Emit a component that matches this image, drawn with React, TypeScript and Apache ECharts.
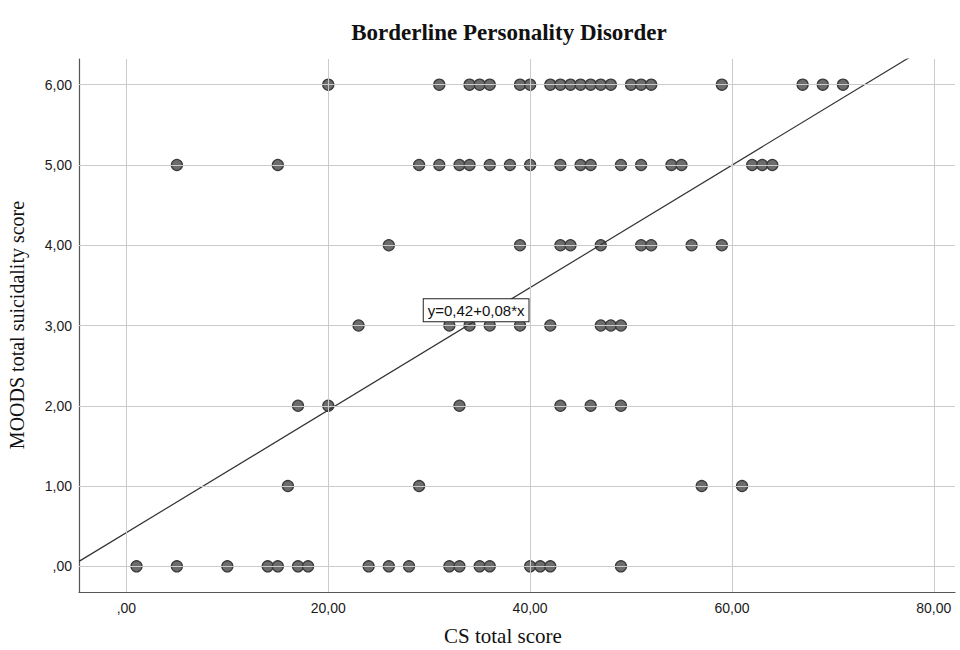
import React, { useEffect, useRef } from "react";
import * as echarts from "echarts";

// CS total score values grouped by MOODS total suicidality score (y)
const row6 = [20, 31, 34, 35, 36, 39, 40, 42, 43, 44, 45, 46, 47, 48, 50, 51, 52, 59, 67, 69, 71];
const row5 = [5, 15, 29, 31, 33, 34, 36, 38, 40, 43, 45, 46, 49, 51, 54, 55, 62, 63, 64];
const row4 = [26, 39, 43, 44, 47, 51, 52, 56, 59];
const row3 = [23, 32, 34, 36, 39, 42, 47, 48, 49];
const row2 = [17, 20, 33, 43, 46, 49];
const row1 = [16, 29, 57, 61];
const row0 = [1, 5, 10, 14, 15, 17, 18, 24, 26, 28, 32, 33, 35, 36, 40, 41, 42, 49];
const rows: [number, number[]][] = [
  [6, row6], [5, row5], [4, row4], [3, row3], [2, row2], [1, row1], [0, row0],
];

const xTicks = [0, 20, 40, 60, 80];
const yTicks = [0, 1, 2, 3, 4, 5, 6];
const intercept = 0.42;
const slope = 0.0763;
const fitLabel = "y=0,42+0,08*x";
const labelPos = [34.65, 3.19];

const X_MIN = -4.7, X_MAX = 82.1, Y_MIN = -0.32, Y_MAX = 6.32;

const fmt = (v: number) => {
  const s = v.toFixed(2).replace(".", ",");
  return s.startsWith("0,") ? s.slice(1) : s;
};

export default function App() {
  const ref = useRef<HTMLDivElement>(null);
  useEffect(() => {
    if (!ref.current) return;
    const chart = echarts.init(ref.current, undefined, { renderer: "svg" });
    const points: number[][] = [];
    rows.forEach(([y, xs]) => xs.forEach((x) => points.push([x, y])));
    const gridColor = "#cbcbcb";
    chart.setOption({
      animation: false,
      backgroundColor: "#ffffff",
      title: {
        text: "Borderline Personality Disorder",
        left: 504,
        textAlign: "center",
        top: 16,
        textStyle: { fontFamily: "Liberation Serif", fontWeight: "bold", fontSize: 23, color: "#111" },
      },
      grid: { left: 79, right: 5, top: 59, bottom: 58 },
      xAxis: {
        type: "value",
        min: X_MIN,
        max: X_MAX,
        splitLine: { show: false },
        axisTick: { show: false },
        axisLine: { show: true, onZero: false, lineStyle: { color: "#555", width: 1.2 } },
        axisLabel: {
          customValues: xTicks,
          formatter: fmt,
          fontFamily: "Liberation Sans",
          fontSize: 14,
          color: "#1a1a1a",
          margin: 9,
        },
      },
      yAxis: {
        type: "value",
        min: Y_MIN,
        max: Y_MAX,
        splitLine: { show: false },
        axisTick: { show: false },
        axisLine: { show: true, onZero: false, lineStyle: { color: "#555", width: 1.2 } },
        axisLabel: {
          customValues: yTicks,
          formatter: fmt,
          fontFamily: "Liberation Sans",
          fontSize: 14,
          color: "#1a1a1a",
          margin: 7,
        },
      },
      graphic: [
        {
          type: "text",
          left: 7,
          top: "middle",
          style: {
            text: "MOODS total suicidality score",
            font: "20px 'Liberation Serif'",
            fill: "#111",
          },
          rotation: Math.PI / 2,
        },
        {
          type: "text",
          left: 507 - 63,
          top: 625,
          style: { text: "CS total score", font: "21px 'Liberation Serif'", fill: "#111" },
        },
      ],
      series: [
        {
          type: "line",
          data: [],
          silent: true,
          markLine: {
            silent: true,
            symbol: "none",
            label: { show: false },
            lineStyle: { color: gridColor, width: 1, type: "solid" },
            data: [
              ...xTicks.map((v) => ({ xAxis: v })),
              ...yTicks.map((v) => ({ yAxis: v })),
            ],
          },
          z: 1,
        },
        {
          type: "scatter",
          data: points,
          symbol: "circle",
          symbolSize: 11,
          itemStyle: { color: "#6c6c6c", borderColor: "#3a3a3a", borderWidth: 1.3, opacity: 1 },
          z: 3,
        },
        {
          type: "line",
          data: [
            [X_MIN, intercept + slope * X_MIN],
            [X_MAX, intercept + slope * X_MAX],
          ],
          symbol: "none",
          clip: true,
          lineStyle: { color: "#333", width: 1.2 },
          z: 4,
          markPoint: {
            symbol: "rect",
            symbolSize: 0,
            data: [{ coord: labelPos, value: 0 }],
            label: {
              show: true,
              position: "inside",
              formatter: fitLabel,
              backgroundColor: "#fff",
              borderColor: "#222",
              borderWidth: 1,
              padding: [4, 4, 3, 4],
              fontFamily: "Liberation Sans",
              fontSize: 15,
              color: "#111",
            },
            z: 10,
          },
        },
      ],
    });
    return () => chart.dispose();
  }, []);
  return (
    <div
      ref={ref}
      style={{ position: "fixed", left: 0, top: 0, width: 960, height: 650 }}
    />
  );
}
